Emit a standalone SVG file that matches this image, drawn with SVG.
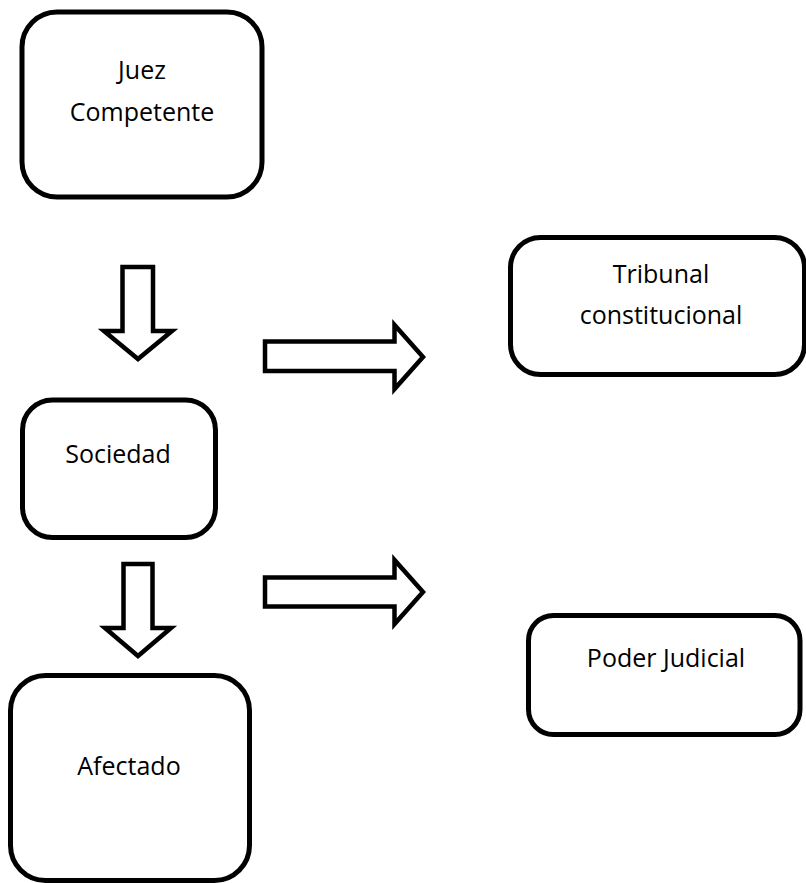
<svg xmlns="http://www.w3.org/2000/svg" width="806" height="883" viewBox="0 0 806 883">
<style>
.box{fill:#fff;stroke:#000;stroke-width:5}
.arr{fill:#fff;stroke:#000;stroke-width:4.5;stroke-linejoin:miter}
text{font-family:"Open Sans","Liberation Sans",sans-serif;font-size:25px;fill:#000;text-anchor:middle}
</style>
<rect width="806" height="883" fill="#fff"/>
<g id="juez">
<rect class="box" x="22" y="12" width="240" height="185" rx="35"/>
<text x="142" y="79">Juez</text>
<text x="142" y="121">Competente</text>
</g>
<g id="tribunal">
<rect class="box" x="510.5" y="237.5" width="294" height="137" rx="30"/>
<text x="661" y="283">Tribunal</text>
<text x="661" y="324">constitucional</text>
</g>
<g id="sociedad">
<rect class="box" x="22.5" y="400" width="193" height="137.5" rx="30"/>
<text x="118" y="463">Sociedad</text>
</g>
<g id="poder">
<rect class="box" x="528.5" y="615.5" width="271.5" height="119" rx="25"/>
<text x="666" y="667">Poder Judicial</text>
</g>
<g id="afectado">
<rect class="box" x="10.5" y="675.5" width="239" height="205" rx="35"/>
<text x="129" y="775">Afectado</text>
</g>
<g id="connectors">
<polygon class="arr" points="122.5,267 153,267 153,331 172,331 138,359 104,331 122.5,331"/>
<polygon class="arr" points="265,341.5 394.5,341.5 394.5,325 423,357 394.5,389 394.5,371 265,371"/>
<polygon class="arr" points="123.5,564 152.5,564 152.5,628 171,628 138,656 105,628 123.5,628"/>
<polygon class="arr" points="265,577.5 394.5,577.5 394.5,560 423,592 394.5,624 394.5,606.5 265,606.5"/>
</g>
</svg>
